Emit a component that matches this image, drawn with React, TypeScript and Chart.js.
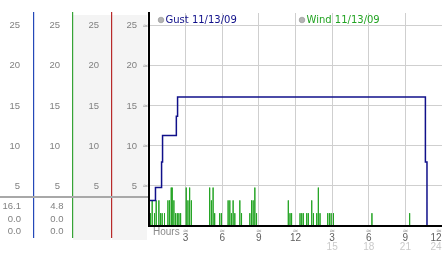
import React, { useEffect, useRef } from 'react';
import { Chart, registerables } from 'chart.js';

Chart.register(...registerables);

// ---- data ----
const gustHours = [0, 0.53, 1.03, 1.11, 2.24, 2.34, 22.64, 22.77, 23.6];
const gustSpeeds = [3.2, 4.8, 8.0, 11.3, 13.7, 16.1, 8.0, 0, 0];

const windHours = [
  0, 0.12, 0.26, 0.45, 0.59, 0.81, 0.95, 1.08, 1.27, 1.55, 1.68, 1.82, 1.9, 2.04, 2.18, 2.32, 2.45, 2.59,
  3.05, 3.19, 3.33, 3.47, 4.97, 5.11, 5.25, 5.38, 5.79, 5.93, 6.48, 6.62, 6.75, 6.89, 7.03, 7.44, 7.58,
  8.26, 8.4, 8.53, 8.67, 8.81, 11.41, 11.55, 11.68, 12.37, 12.51, 12.64, 12.92, 13.05, 13.33, 13.47,
  13.74, 13.87, 14.01, 14.64, 14.78, 14.92, 15.11, 18.26, 21.35, 24,
];
const windSpeeds = [
  0, 1.6, 3.2, 1.6, 3.2, 3.2, 1.6, 1.6, 1.6, 3.2, 3.2, 4.8, 4.8, 3.2, 1.6, 1.6, 1.6, 1.6,
  4.8, 3.2, 4.8, 3.2, 4.8, 3.2, 4.8, 1.6, 1.6, 1.6, 3.2, 3.2, 1.6, 3.2, 1.6, 3.2, 1.6,
  1.6, 3.2, 3.2, 4.8, 1.6, 3.2, 1.6, 1.6, 1.6, 1.6, 1.6, 1.6, 1.6, 3.2, 1.6,
  1.6, 4.8, 1.6, 1.6, 1.6, 1.6, 1.6, 1.6, 1.6, 0,
];

const xTickHours = [3, 6, 9, 12, 15, 18, 21, 24];
const xTickLabels = ['3', '6', '9', '12', '3', '6', '9', '12'];
const xSecondRowHours = [15, 18, 21, 24];
const xSecondRowLabels = ['15', '18', '21', '24'];
const yTickValues = [5, 10, 15, 20, 25];
const gustStats = ['16.1', '0.0', '0.0'];
const windStats = ['4.8', '0.0', '0.0'];
const legendLabels = ['Gust 11/13/09', 'Wind 11/13/09'];
const axisTitle = 'Hours';

// ---- styles ----
const NAVY = '#10108a';
const GREEN = '#22a322';
const GRID = '#cfcfcf';
const NUM_FONT = '9.5px "Liberation Sans", Arial, sans-serif';
const AX_FONT = '10px "Liberation Sans", Arial, sans-serif';
const LEG_FONT = '10px "DejaVu Sans", Verdana, sans-serif';
const MARK_FONT = '7px "DejaVu Sans", sans-serif';

const panelPlugin = {
  id: 'panel',
  beforeDraw(chart: any) {
    const { ctx } = chart;
    ctx.save();
    ctx.fillStyle = '#f4f4f4';
    ctx.fillRect(73, 15, 38, 225);
    ctx.fillRect(112, 15, 35, 225);
    ctx.restore();
  },
  afterDraw(chart: any) {
    const { ctx, width } = chart;
    const xs = chart.scales.x;
    const ys = chart.scales.y;
    ctx.save();

    // column lines
    const lines = [
      { x: 33, c: '#2448b8' },
      { x: 72, c: '#36a336' },
      { x: 111, c: '#b82a2a' },
    ];
    lines.forEach((l) => {
      ctx.fillStyle = l.c;
      ctx.fillRect(l.x, 12, 1.2, 226);
    });

    // y labels in each column
    ctx.font = NUM_FONT;
    ctx.fillStyle = '#808080';
    ctx.textAlign = 'right';
    ctx.textBaseline = 'middle';
    const colRights = [20, 60, 99, 137];
    yTickValues.forEach((v) => {
      const py = ys.getPixelForValue(v);
      colRights.forEach((r) => ctx.fillText(String(v), r, py));
    });
    ctx.font = MARK_FONT;
    ctx.fillStyle = '#a0a0a0';
    ctx.textAlign = 'center';
    yTickValues.forEach((v) => {
      ctx.fillText('≈', 145.5, ys.getPixelForValue(v));
    });

    // separator
    ctx.fillStyle = '#a8a8a8';
    ctx.fillRect(0, 196, 148, 2);

    // stats
    ctx.font = NUM_FONT;
    ctx.fillStyle = '#808080';
    ctx.textAlign = 'right';
    const statY = [206, 219, 231];
    gustStats.forEach((s, i) => ctx.fillText(s, 21, statY[i]));
    windStats.forEach((s, i) => ctx.fillText(s, 63.5, statY[i]));

    // x labels
    ctx.textAlign = 'center';
    xTickHours.forEach((h, i) => {
      const px = xs.getPixelForValue(h);
      ctx.font = AX_FONT;
      const w = ctx.measureText(xTickLabels[i]).width;
      const cx = Math.min(px, width - w / 2 - 0.5);
      ctx.fillStyle = '#606060';
      ctx.fillText(xTickLabels[i], cx, 238);
      ctx.font = MARK_FONT;
      ctx.fillStyle = '#a0a0a0';
      ctx.fillText('≈', Math.min(px, width - 3), 231);
    });
    ctx.font = AX_FONT;
    ctx.fillStyle = '#cacaca';
    xSecondRowHours.forEach((h, i) => {
      const px = xs.getPixelForValue(h);
      const w = ctx.measureText(xSecondRowLabels[i]).width;
      ctx.fillText(xSecondRowLabels[i], Math.min(px, width - w / 2 - 0.5), 247);
    });
    ctx.fillStyle = '#8a8a8a';
    ctx.textAlign = 'left';
    ctx.fillText(axisTitle, 153, 232.5);

    // legend
    const legendItems = [
      { x: 161, c: NAVY, t: legendLabels[0] },
      { x: 302, c: GREEN, t: legendLabels[1] },
    ];
    legendItems.forEach((it) => {
      ctx.beginPath();
      ctx.arc(it.x, 20, 2.8, 0, Math.PI * 2);
      ctx.fillStyle = '#b4b4b4';
      ctx.fill();
      ctx.strokeStyle = '#909090';
      ctx.lineWidth = 0.6;
      ctx.stroke();
      ctx.font = LEG_FONT;
      ctx.fillStyle = it.c;
      ctx.textAlign = 'left';
      ctx.textBaseline = 'middle';
      ctx.fillText(it.t, it.x + 4.5, 20);
    });

    ctx.restore();
  },
};

export default function App() {
  const ref = useRef<HTMLCanvasElement>(null);
  useEffect(() => {
    const windPoints = windHours.flatMap((h, i) => [
      { x: h, y: 0 },
      { x: h, y: windSpeeds[i] },
      { x: h, y: 0 },
    ]);
    const gustPoints = gustHours.map((h, i) => ({ x: h, y: gustSpeeds[i] }));
    const chart = new Chart(ref.current as HTMLCanvasElement, {
      type: 'line',
      data: {
        datasets: [
          {
            label: 'Gust',
            data: gustPoints,
            borderColor: NAVY,
            borderWidth: 1.5,
            stepped: 'before',
            pointRadius: 0,
            fill: false,
            order: 0,
          },
          {
            label: 'Wind',
            data: windPoints,
            borderColor: GREEN,
            borderWidth: 1,
            pointRadius: 0,
            tension: 0,
            fill: false,
            order: 1,
          },
        ],
      },
      options: {
        animation: false,
        responsive: false,
        layout: { padding: { left: 149, top: 13, right: 0, bottom: 0 } },
        plugins: { legend: { display: false }, tooltip: { enabled: false } },
        scales: {
          x: {
            type: 'linear',
            min: 0,
            max: 24,
            afterBuildTicks: (s: any) => {
              s.ticks = xTickHours.filter((h) => h < 24).map((h) => ({ value: h }));
            },
            ticks: { display: false },
            grid: { display: true, drawTicks: false, color: GRID, lineWidth: 1 },
            border: { color: '#000', width: 2, z: 1 } as any,
            afterFit: (s: any) => {
              s.height = 27;
            },
          },
          y: {
            type: 'linear',
            min: 0,
            max: 26.6,
            ticks: { display: false },
            afterBuildTicks: (s: any) => {
              s.ticks = yTickValues.map((v) => ({ value: v }));
            },
            grid: { display: true, drawTicks: false, color: GRID, lineWidth: 1 },
            border: { color: '#000', width: 2, z: 1 } as any,
          },
        },
      } as any,
      plugins: [panelPlugin],
    });
    return () => chart.destroy();
  }, []);
  return (
    <div style={{ position: 'fixed', left: 0, top: 0, width: 442, height: 253, background: '#fff' }}>
      <canvas ref={ref} width={442} height={253} style={{ display: 'block', width: 442, height: 253 }} />
    </div>
  );
}
